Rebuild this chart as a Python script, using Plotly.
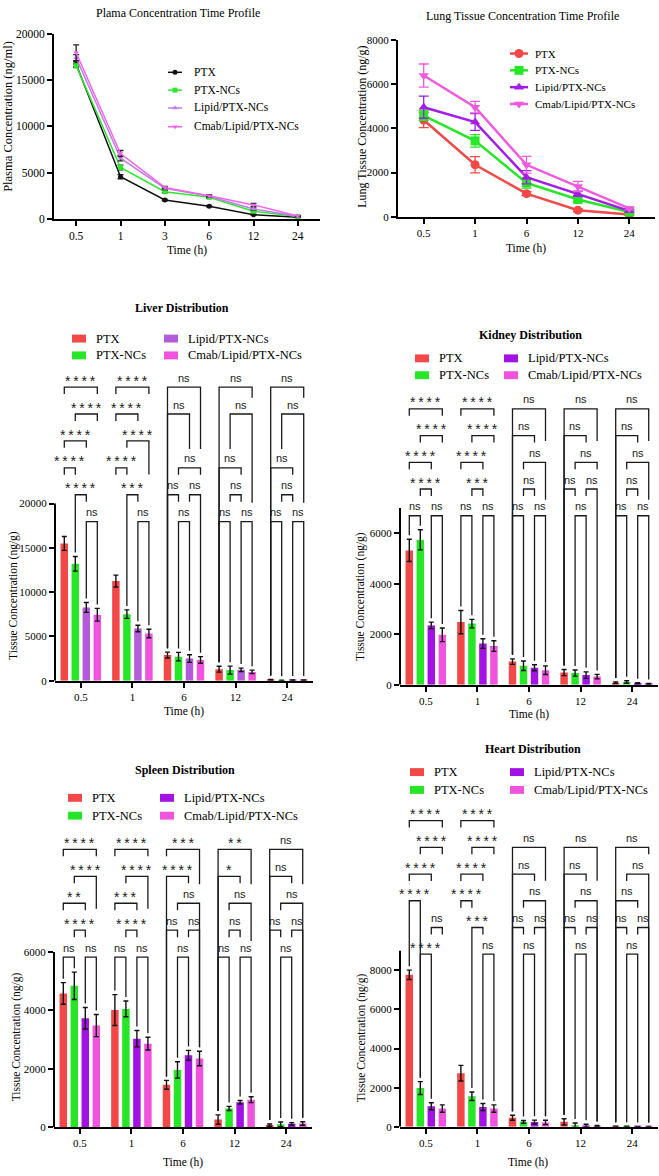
import plotly.graph_objects as go

W, H = 659, 1176
SERIES = ["PTX", "PTX-NCs", "Lipid/PTX-NCs", "Cmab/Lipid/PTX-NCs"]

# ---------------- data ----------------
plasma_times = ["0.5", "1", "3", "6", "12", "24"]
plasma_ptx = [16700, 4550, 2040, 1360, 430, 180]
plasma_ptx_err = [250, 220, 90, 80, 60, 30]
plasma_nc = [16550, 5550, 2930, 2320, 820, 250]
plasma_nc_err = [200, 250, 120, 110, 80, 30]
plasma_lipid = [17400, 6550, 3290, 2430, 1070, 280]
plasma_lipid_err = [350, 300, 130, 110, 120, 40]
plasma_cmab = [17950, 7050, 3390, 2500, 1500, 300]
plasma_cmab_err = [850, 330, 110, 100, 160, 50]

lung_times = ["0.5", "1", "6", "12", "24"]
lung_ptx = [4370, 2350, 1045, 300, 110]
lung_ptx_err = [340, 370, 90, 60, 40]
lung_nc = [4570, 3430, 1530, 780, 220]
lung_nc_err = [230, 280, 230, 110, 60]
lung_lipid = [4950, 4280, 1790, 1040, 270]
lung_lipid_err = [500, 380, 300, 120, 60]
lung_cmab = [6380, 4950, 2350, 1370, 380]
lung_cmab_err = [520, 260, 380, 230, 70]

bar_times = ["0.5", "1", "6", "12", "24"]

liver_ptx = [15500, 11250, 2900, 1300, 110]
liver_ptx_err = [780, 670, 330, 330, 40]
liver_nc = [13200, 7520, 2720, 1200, 40]
liver_nc_err = [820, 480, 480, 450, 30]
liver_lipid = [8280, 5900, 2500, 1230, 70]
liver_lipid_err = [560, 370, 430, 200, 30]
liver_cmab = [7450, 5330, 2350, 1000, 70]
liver_cmab_err = [720, 480, 370, 200, 30]

kidney_ptx = [5320, 2480, 915, 480, 80]
kidney_ptx_err = [440, 460, 110, 120, 30]
kidney_nc = [5740, 2420, 750, 460, 105]
kidney_nc_err = [400, 170, 190, 120, 50]
kidney_lipid = [2350, 1630, 670, 380, 55]
kidney_lipid_err = [130, 190, 120, 130, 20]
kidney_cmab = [1975, 1530, 575, 320, 35]
kidney_cmab_err = [270, 210, 170, 90, 15]

spleen_ptx = [4580, 4010, 1450, 260, 70]
spleen_ptx_err = [370, 530, 150, 160, 40]
spleen_nc = [4840, 4050, 1960, 640, 95]
spleen_nc_err = [470, 270, 280, 70, 80]
spleen_lipid = [3730, 3030, 2460, 850, 115]
spleen_lipid_err = [370, 280, 170, 60, 40]
spleen_cmab = [3480, 2860, 2350, 940, 125]
spleen_cmab_err = [380, 220, 250, 100, 60]

heart_ptx = [7770, 2740, 460, 250, 15]
heart_ptx_err = [240, 400, 130, 160, 10]
heart_nc = [1980, 1560, 250, 80, 15]
heart_nc_err = [330, 220, 70, 110, 10]
heart_lipid = [1050, 1010, 240, 60, 5]
heart_lipid_err = [180, 180, 100, 70, 5]
heart_cmab = [930, 930, 220, 30, 5]
heart_cmab_err = [190, 190, 110, 30, 5]

# pairwise comparisons per time group: "barA-barB:level:label:leftLeg:rightLeg"
liver_cmp = [
    ["1-4:6:****:s:s", "2-4:5:****:s:s", "1-3:4:****:s:s", "1-2:3:****:s:s", "2-3:2:****:b:s", "3-4:1:ns:b:b"],
    ["1-4:6:****:s:s", "1-3:5:****:s:s", "2-4:4:****:s:2.75", "1-2:3:****:s:s", "2-3:2:***:b:s", "3-4:1:ns:b:b"],
    ["1-4:6:ns:b:3.7", "1-3:5:ns:b:3.7", "2-4:3:ns:s:s", "1-2:2:ns:b:s", "3-4:2:ns:s:b", "2-3:1:ns:b:b"],
    ["1-4:6:ns:b:5.6", "2-4:5:ns:3.7:1.7", "1-3:3:ns:b:s", "2-3:2:ns:s:s", "1-2:1:ns:b:b", "3-4:1:ns:b:b"],
    ["1-4:6:ns:b:5.6", "2-4:5:ns:3.7:1.7", "1-3:3:ns:b:s", "2-3:2:ns:s:s", "1-2:1:ns:b:b", "3-4:1:ns:b:b"],
]
kidney_cmp = [
    ["1-4:5:****:s:s", "2-4:4:****:s:s", "1-3:3:****:s:s", "2-3:2:****:s:s", "1-2:1:ns:b:b", "3-4:1:ns:b:b"],
    ["1-4:5:****:s:s", "2-4:4:****:s:s", "1-3:3:****:s:s", "2-3:2:***:s:s", "1-2:1:ns:b:b", "3-4:1:ns:b:b"],
    ["1-4:5:ns:b:3.8", "1-3:4:ns:b:s", "2-4:3:ns:s:1.6", "2-3:2:ns:s:s", "1-2:1:ns:b:b", "3-4:1:ns:b:b"],
    ["1-4:5:ns:b:3.8", "1-3:4:ns:b:s", "2-4:3:ns:s:s", "1-2:2:ns:b:s", "3-4:2:ns:s:b", "2-3:1:ns:b:b"],
    ["1-4:5:ns:b:3.8", "1-3:4:ns:b:s", "2-4:3:ns:s:1.6", "2-3:2:ns:s:s", "1-2:1:ns:b:b", "3-4:1:ns:b:b"],
]
spleen_cmp = [
    ["1-4:5:****:s:s", "2-4:4:****:s:2.8", "1-3:3:**:s:s", "2-3:2:****:s:s", "1-2:1:ns:b:b", "3-4:1:ns:b:b"],
    ["1-4:5:****:s:s", "2-4:4:****:s:2.8", "1-3:3:***:s:s", "2-3:2:****:s:s", "1-2:1:ns:b:b", "3-4:1:ns:b:b"],
    ["1-4:5:***:s:3.7", "1-3:4:****:b:s", "2-4:3:ns:s:b", "1-2:2:ns:b:s", "3-4:2:ns:s:b", "2-3:1:ns:b:b"],
    ["1-4:5:**:b:3.7", "1-3:4:*:b:s", "2-4:3:ns:s:1.6", "2-3:2:ns:s:s", "1-2:1:ns:b:b", "3-4:1:ns:b:b"],
    ["1-4:5:ns:b:3.7", "1-3:4:ns:b:s", "2-4:3:ns:s:b", "1-2:2:ns:b:s", "3-4:2:ns:s:b", "2-3:1:ns:b:b"],
]
heart_cmp = [
    ["1-4:6:****:s:s", "2-4:5:****:s:s", "1-3:4:****:s:s", "1-2:3:****:b:b", "3-4:2:ns:s:s", "2-3:1:****:b:b"],
    ["1-4:6:****:s:s", "2-4:5:****:s:s", "1-3:4:****:s:s", "1-2:3:****:s:s", "2-3:2:***:b:s", "3-4:1:ns:b:b"],
    ["1-4:5:ns:b:3.75", "1-3:4:ns:b:s", "2-4:3:ns:s:b", "1-2:2:ns:b:s", "3-4:2:ns:s:b", "2-3:1:ns:b:b"],
    ["1-4:5:ns:b:3.75", "1-3:4:ns:b:s", "2-4:3:ns:s:b", "1-2:2:ns:b:s", "3-4:2:ns:s:b", "2-3:1:ns:b:b"],
    ["1-4:5:ns:b:s", "2-4:4:ns:s:b", "1-3:3:ns:b:s", "1-2:2:ns:b:s", "3-4:2:ns:s:b", "2-3:1:ns:b:b"],
]

# ---------------- style ----------------
SERIF = "Liberation Serif"
SANS = "Liberation Sans"
BARGAP = 0.147
BARGROUPGAP = 0.32
RED = "#F24848"
GREEN = "#27E627"
PURPLE_LIGHT = "#B35BD9"
PURPLE = "#A212E3"
PINK = "#F053DD"
PLASMA_COLORS = ["#111111", "#2FE62F", "#C07CE8", "#F066EA"]
LUNG_COLORS = [RED, GREEN, "#A21EE6", "#F05ADF"]
SYMBOLS = ["circle", "square", "triangle-up", "triangle-down"]
THIN = "\u2009"

fig = go.Figure()
annots = []
shapes = []
lay = dict(width=W, height=H, margin=dict(l=0, r=0, t=0, b=0),
           paper_bgcolor="white", plot_bgcolor="rgba(0,0,0,0)",
           showlegend=False, barmode="group", bargap=BARGAP, bargroupgap=BARGROUPGAP)


def fx(p):
    return p / W


def fy(p):
    return 1 - p / H


def ref(n):
    return ("x" if n == 1 else f"x{n}"), ("y" if n == 1 else f"y{n}")


def text(x, y, s, size, family=SERIF, xanchor="center", angle=0):
    annots.append(dict(x=fx(x), y=fy(y), xref="paper", yref="paper", text=s, showarrow=False,
                       font=dict(family=family, size=size, color="black"),
                       xanchor=xanchor, yanchor="middle", textangle=angle))


def axes(n, xdom, ydom, yrange, yticks, times, tfs, yline):
    common = dict(showgrid=False, zeroline=False, ticks="outside", ticklen=5, tickwidth=1.5,
                  tickcolor="black", tickfont=dict(family=SERIF, size=tfs, color="black"),
                  linecolor="black", linewidth=2, fixedrange=True)
    xr, yr = ref(n)
    lay["xaxis" if n == 1 else f"xaxis{n}"] = dict(
        domain=[fx(xdom[0]), fx(xdom[1])], range=[-0.5, len(times) - 0.5],
        tickvals=list(range(len(times))), ticktext=times, showline=True, anchor=yr, **common)
    lay["yaxis" if n == 1 else f"yaxis{n}"] = dict(
        domain=[fy(ydom[1]), fy(ydom[0])], range=list(yrange), tickvals=yticks,
        ticktext=[str(v) for v in yticks], showline=yline, anchor=xr, **common)


# ---------------- line charts ----------------
def line_panel(n, times, vals, errs, colors, xdom, ydom, ymax, yticks, msize, lw, cap, ecolored, tfs):
    xr, yr = ref(n)
    axes(n, xdom, ydom, (0, ymax), yticks, times, tfs, True)
    for k in range(4):
        fig.add_trace(go.Scatter(
            x=list(range(len(times))), y=vals[k], mode="lines+markers", xaxis=xr, yaxis=yr,
            line=dict(color=colors[k], width=lw),
            marker=dict(symbol=SYMBOLS[k], size=msize, color=colors[k]),
            error_y=dict(type="data", array=errs[k], visible=True, width=cap, thickness=1.3,
                         color=colors[k] if ecolored else "#222222"),
            cliponaxis=False, name=SERIES[k]))


line_panel(1, plasma_times, [plasma_ptx, plasma_nc, plasma_lipid, plasma_cmab],
           [plasma_ptx_err, plasma_nc_err, plasma_lipid_err, plasma_cmab_err],
           PLASMA_COLORS, (54, 320), (28, 215), 20000, [0, 5000, 10000, 15000, 20000], 5, 1.5, 3, False, 11.5)
line_panel(2, lung_times, [lung_ptx, lung_nc, lung_lipid, lung_cmab],
           [lung_ptx_err, lung_nc_err, lung_lipid_err, lung_cmab_err],
           LUNG_COLORS, (398, 655), (34, 213), 8000, [0, 2000, 4000, 6000, 8000], 9, 2.5, 5, True, 11)

# canvas axis (pixel coordinates) for legend symbols
lay["xaxis7"] = dict(domain=[0, 1], range=[0, W], visible=False, fixedrange=True, anchor="y7")
lay["yaxis7"] = dict(domain=[0, 1], range=[H, 0], visible=False, fixedrange=True, anchor="x7")


def line_legend(colors, rows, x0, x1, xm, xt, msize, lw, fs):
    for k in range(4):
        fig.add_trace(go.Scatter(x=[x0, x1], y=[rows[k], rows[k]], mode="lines", xaxis="x7", yaxis="y7",
                                 line=dict(color=colors[k], width=lw), hoverinfo="skip"))
        fig.add_trace(go.Scatter(x=[xm], y=[rows[k]], mode="markers", xaxis="x7", yaxis="y7",
                                 marker=dict(symbol=SYMBOLS[k], size=msize, color=colors[k]), hoverinfo="skip"))
        text(xt, rows[k], SERIES[k], fs, xanchor="left")


line_legend(PLASMA_COLORS, [67, 85, 103, 122], 168, 182, 175, 192, 5, 1.5, 11.5)
line_legend(LUNG_COLORS, [48, 65, 82, 99], 510, 528, 519, 533, 9, 2.5, 11)

text(178, 7, "Plama Concentration Time Profile", 12)
text(522, 10, "Lung Tissue Concentration Time Profile", 12)
text(8, 112, "Plasma Concentration (ng/ml)", 12.5, angle=-90)
text(362, 122, "Lung Tissue Concentration (ng/g)", 12, angle=-90)
text(187, 247, "Time (h)", 11.5)
text(526, 245, "Time (h)", 11.5)


# ---------------- bar charts ----------------
def bar_panel(n, vals, errs, colors, cmp, xdom, zero_px, ref_val, ref_px, top_px, axis_max, yticks,
              lvl1_px, step_px):
    xr, yr = ref(n)
    upp = ref_val / (zero_px - ref_px)
    ymax = (zero_px - top_px) * upp
    axes(n, xdom, (top_px, zero_px), (0, ymax), yticks, bar_times, 11, False)
    shapes.append(dict(type="line", xref=f"{xr} domain", yref=yr, x0=0, x1=0, y0=0, y1=axis_max,
                       line=dict(color="black", width=2)))
    for k in range(4):
        fig.add_trace(go.Bar(x=list(range(len(bar_times))), y=vals[k], xaxis=xr, yaxis=yr,
                             marker=dict(color=colors[k], line=dict(width=0)), name=SERIES[k],
                             error_y=dict(type="data", array=errs[k], visible=True, width=2.5,
                                          thickness=1.4, color="#111111")))
    slot = (1 - BARGAP) / 4
    base = (zero_px - lvl1_px) * upp
    step = step_px * upp

    def lvl(v):
        return base + (v - 1) * step

    for g, group in enumerate(cmp):
        for item in group:
            pair, L, lab, lleg, rleg = item.split(":")
            i, j = [int(t) - 1 for t in pair.split("-")]
            xi = g + (i - 1.5) * slot
            xj = g + (j - 1.5) * slot
            yl = lvl(float(L))

            def leg(code, b):
                if code == "s":
                    return yl - 7 * upp
                if code == "b":
                    return vals[b][g] + errs[b][g] + 4 * upp
                return lvl(float(code))

            path = f"M{xi},{leg(lleg, i)} L{xi},{yl} L{xj},{yl} L{xj},{leg(rleg, j)}"
            shapes.append(dict(type="path", path=path, xref=xr, yref=yr,
                               line=dict(color="#1a1a1a", width=1.3)))
            star = "*" in lab
            annots.append(dict(x=(xi + xj) / 2, y=yl + 9.5 * upp, xref=xr, yref=yr,
                               text=THIN.join(lab) if star else lab, showarrow=False,
                               yshift=-3 if star else 0,
                               font=dict(family=SANS, size=14 if star else 11, color="#1a1a1a"),
                               xanchor="center", yanchor="middle"))


def bar_legend(colors, rows, sw1, sw2, fs):
    pos = [(rows[0], sw1), (rows[1], sw1), (rows[0], sw2), (rows[1], sw2)]
    for k in range(4):
        y, x = pos[k]
        shapes.append(dict(type="rect", xref="paper", yref="paper", x0=fx(x), x1=fx(x + 14),
                           y0=fy(y + 4), y1=fy(y - 4), fillcolor=colors[k], line=dict(width=0)))
        text(x + 22, y, SERIES[k], fs, xanchor="left")


LIVER_COLORS = [RED, GREEN, PURPLE_LIGHT, PINK]
OTHER_COLORS = [RED, GREEN, PURPLE, PINK]

bar_panel(3, [liver_ptx, liver_nc, liver_lipid, liver_cmab],
          [liver_ptx_err, liver_nc_err, liver_lipid_err, liver_cmab_err],
          LIVER_COLORS, liver_cmp, (55, 313), 681.7, 20000, 502.7, 360, 20000,
          [0, 5000, 10000, 15000, 20000], 521, 27.2)
bar_panel(4, [kidney_ptx, kidney_nc, kidney_lipid, kidney_cmab],
          [kidney_ptx_err, kidney_nc_err, kidney_lipid_err, kidney_cmab_err],
          OTHER_COLORS, kidney_cmp, (400, 658), 685.7, 6000, 532.7, 380, 7000,
          [0, 2000, 4000, 6000], 515, 27)
bar_panel(5, [spleen_ptx, spleen_nc, spleen_lipid, spleen_cmab],
          [spleen_ptx_err, spleen_nc_err, spleen_lipid_err, spleen_cmab_err],
          OTHER_COLORS, spleen_cmp, (54, 312), 1132.7, 6000, 955.7, 830, 6000,
          [0, 2000, 4000, 6000], 961, 27.25)
bar_panel(6, [heart_ptx, heart_nc, heart_lipid, heart_cmab],
          [heart_ptx_err, heart_nc_err, heart_lipid_err, heart_cmab_err],
          OTHER_COLORS, heart_cmp, (400, 658), 1132.3, 8000, 974.3, 810, 9000,
          [0, 2000, 4000, 6000, 8000], 958, 27)

bar_legend(LIVER_COLORS, [336, 353], 72, 164, 12.5)
bar_legend(OTHER_COLORS, [356, 373], 415, 504, 12.5)
bar_legend(OTHER_COLORS, [800, 818], 68, 160, 12.5)
bar_legend(OTHER_COLORS, [774, 792], 410, 510, 12.5)

text(182, 305, "<b>Liver Distribution</b>", 12)
text(530, 332, "<b>Kidney Distribution</b>", 12)
text(185, 772, "<b>Spleen Distribution</b>", 12)
text(533, 751, "<b>Heart Distribution</b>", 12)

text(14, 596, "Tissue Concentration (ng/g)", 11.5, angle=-90)
text(361, 596, "Tissue Concentration (ng/g)", 11.5, angle=-90)
text(16, 1042, "Tissue Concentration (ng/g)", 11.5, angle=-90)
text(361, 1042, "Tissue Concentration (ng/g)", 11.5, angle=-90)

text(184, 713, "Time (h)", 11.5)
text(529, 716, "Time (h)", 11.5)
text(183, 1168, "Time (h)", 11.5)
text(528, 1168, "Time (h)", 11.5)

lay["annotations"] = annots
lay["shapes"] = shapes
fig.update_layout(**lay)
fig.write_html("out.html", config={"displayModeBar": False},
               post_script="document.body.style.margin='0';document.body.style.overflow='hidden';")
